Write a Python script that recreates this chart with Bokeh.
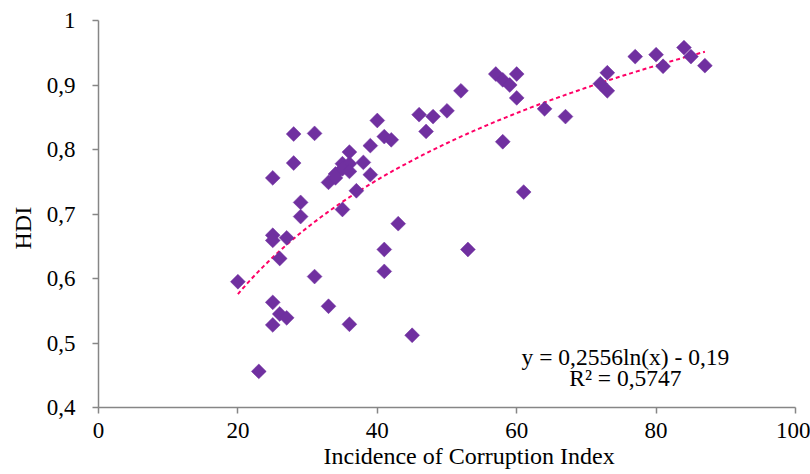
import numpy as np
from bokeh.plotting import figure
from bokeh.models import Range1d, FixedTicker, Label, Title
from bokeh.embed import file_html
from bokeh.resources import INLINE

# Data
corruption_index = [20, 23, 25, 25, 25, 27, 26, 25, 26, 27, 25, 28, 28, 29, 29, 31, 31, 33,
                    36, 45, 53, 41, 41, 43, 35, 37, 33, 34, 34, 35, 36, 35, 36, 36, 38, 39,
                    39, 40, 41, 42, 46, 48, 47, 50, 52, 57, 58, 59, 60, 60, 58, 61, 64, 67,
                    72, 73, 73, 77, 80, 81, 84, 85, 87]
hdi = [0.595, 0.456, 0.756, 0.667, 0.659, 0.663, 0.631, 0.563, 0.545, 0.539, 0.528, 0.824,
       0.779, 0.718, 0.696, 0.825, 0.603, 0.557, 0.529, 0.512, 0.645, 0.611, 0.645, 0.685,
       0.707, 0.736, 0.749, 0.756, 0.762, 0.778, 0.778, 0.770, 0.766, 0.796, 0.780, 0.761,
       0.806, 0.845, 0.820, 0.815, 0.854, 0.851, 0.828, 0.860, 0.891, 0.917, 0.908, 0.900,
       0.917, 0.880, 0.812, 0.734, 0.863, 0.851, 0.902, 0.919, 0.891, 0.944, 0.947, 0.929,
       0.958, 0.944, 0.930]

# Logarithmic trendline shown on the chart: y = a ln(x) + b
trend_a = 0.2556
trend_b = -0.19
equation_text = "y = 0,2556ln(x) - 0,19"
r2_text = "R² = 0,5747"

x_title = "Incidence of Corruption Index"
y_title = "HDI"
x_ticks = [0, 20, 40, 60, 80, 100]
y_ticks = [0.4, 0.5, 0.6, 0.7, 0.8, 0.9, 1.0]
y_tick_labels = ["0,4", "0,5", "0,6", "0,7", "0,8", "0,9", "1"]

FONT = "Liberation Serif"
AXIS_COLOR = "#868686"

p = figure(width=810, height=474, output_backend="svg", toolbar_location=None,
           x_range=Range1d(0, 100), y_range=Range1d(0.4, 1.0),
           min_border_left=97, min_border_right=15, min_border_top=20, min_border_bottom=67)
p.outline_line_color = None
p.grid.visible = False
p.background_fill_color = "white"
p.border_fill_color = "white"

trend_x = np.linspace(min(corruption_index), max(corruption_index), 200)
trend_y = trend_a * np.log(trend_x) + trend_b
p.line(trend_x, trend_y, line_color="#FF0066", line_width=2, line_dash="4 3")

p.scatter(corruption_index, hdi, marker="square", size=10.5, angle=np.pi / 4,
          fill_color="#7030A0", line_color="#7030A0", line_width=0.5)

p.xaxis.ticker = FixedTicker(ticks=x_ticks)
p.yaxis.ticker = FixedTicker(ticks=y_ticks)
p.yaxis.major_label_overrides = {t: l for t, l in zip(y_ticks, y_tick_labels)}

for ax in (p.xaxis, p.yaxis):
    ax.axis_line_color = AXIS_COLOR
    ax.axis_line_width = 1.5
    ax.major_tick_line_color = AXIS_COLOR
    ax.major_tick_line_width = 1.5
    ax.minor_tick_line_color = None
    ax.major_tick_in = 0
    ax.major_tick_out = 6
    ax.major_label_text_font = FONT
    ax.major_label_text_font_size = "23px"
    ax.major_label_text_color = "black"

p.xaxis.major_label_standoff = 9
p.yaxis.major_label_standoff = 17

p.add_layout(Title(text=x_title, align="left", offset=225, standoff=0,
                   text_font=FONT, text_font_size="24px", text_font_style="normal",
                   text_color="black"), "below")
p.add_layout(Title(text=y_title, align="left", offset=158, standoff=15,
                   text_font=FONT, text_font_size="24px", text_font_style="normal",
                   text_color="black"), "left")

p.add_layout(Label(x=75.6, y=0.4788, text=equation_text, text_align="center",
                   text_baseline="middle", text_font=FONT, text_font_size="23.5px",
                   text_color="black"))
p.add_layout(Label(x=75.6, y=0.4462, text=r2_text, text_align="center",
                   text_baseline="middle", text_font=FONT, text_font_size="23.5px",
                   text_color="black"))

open("out.html", "w").write(file_html(p, INLINE))
